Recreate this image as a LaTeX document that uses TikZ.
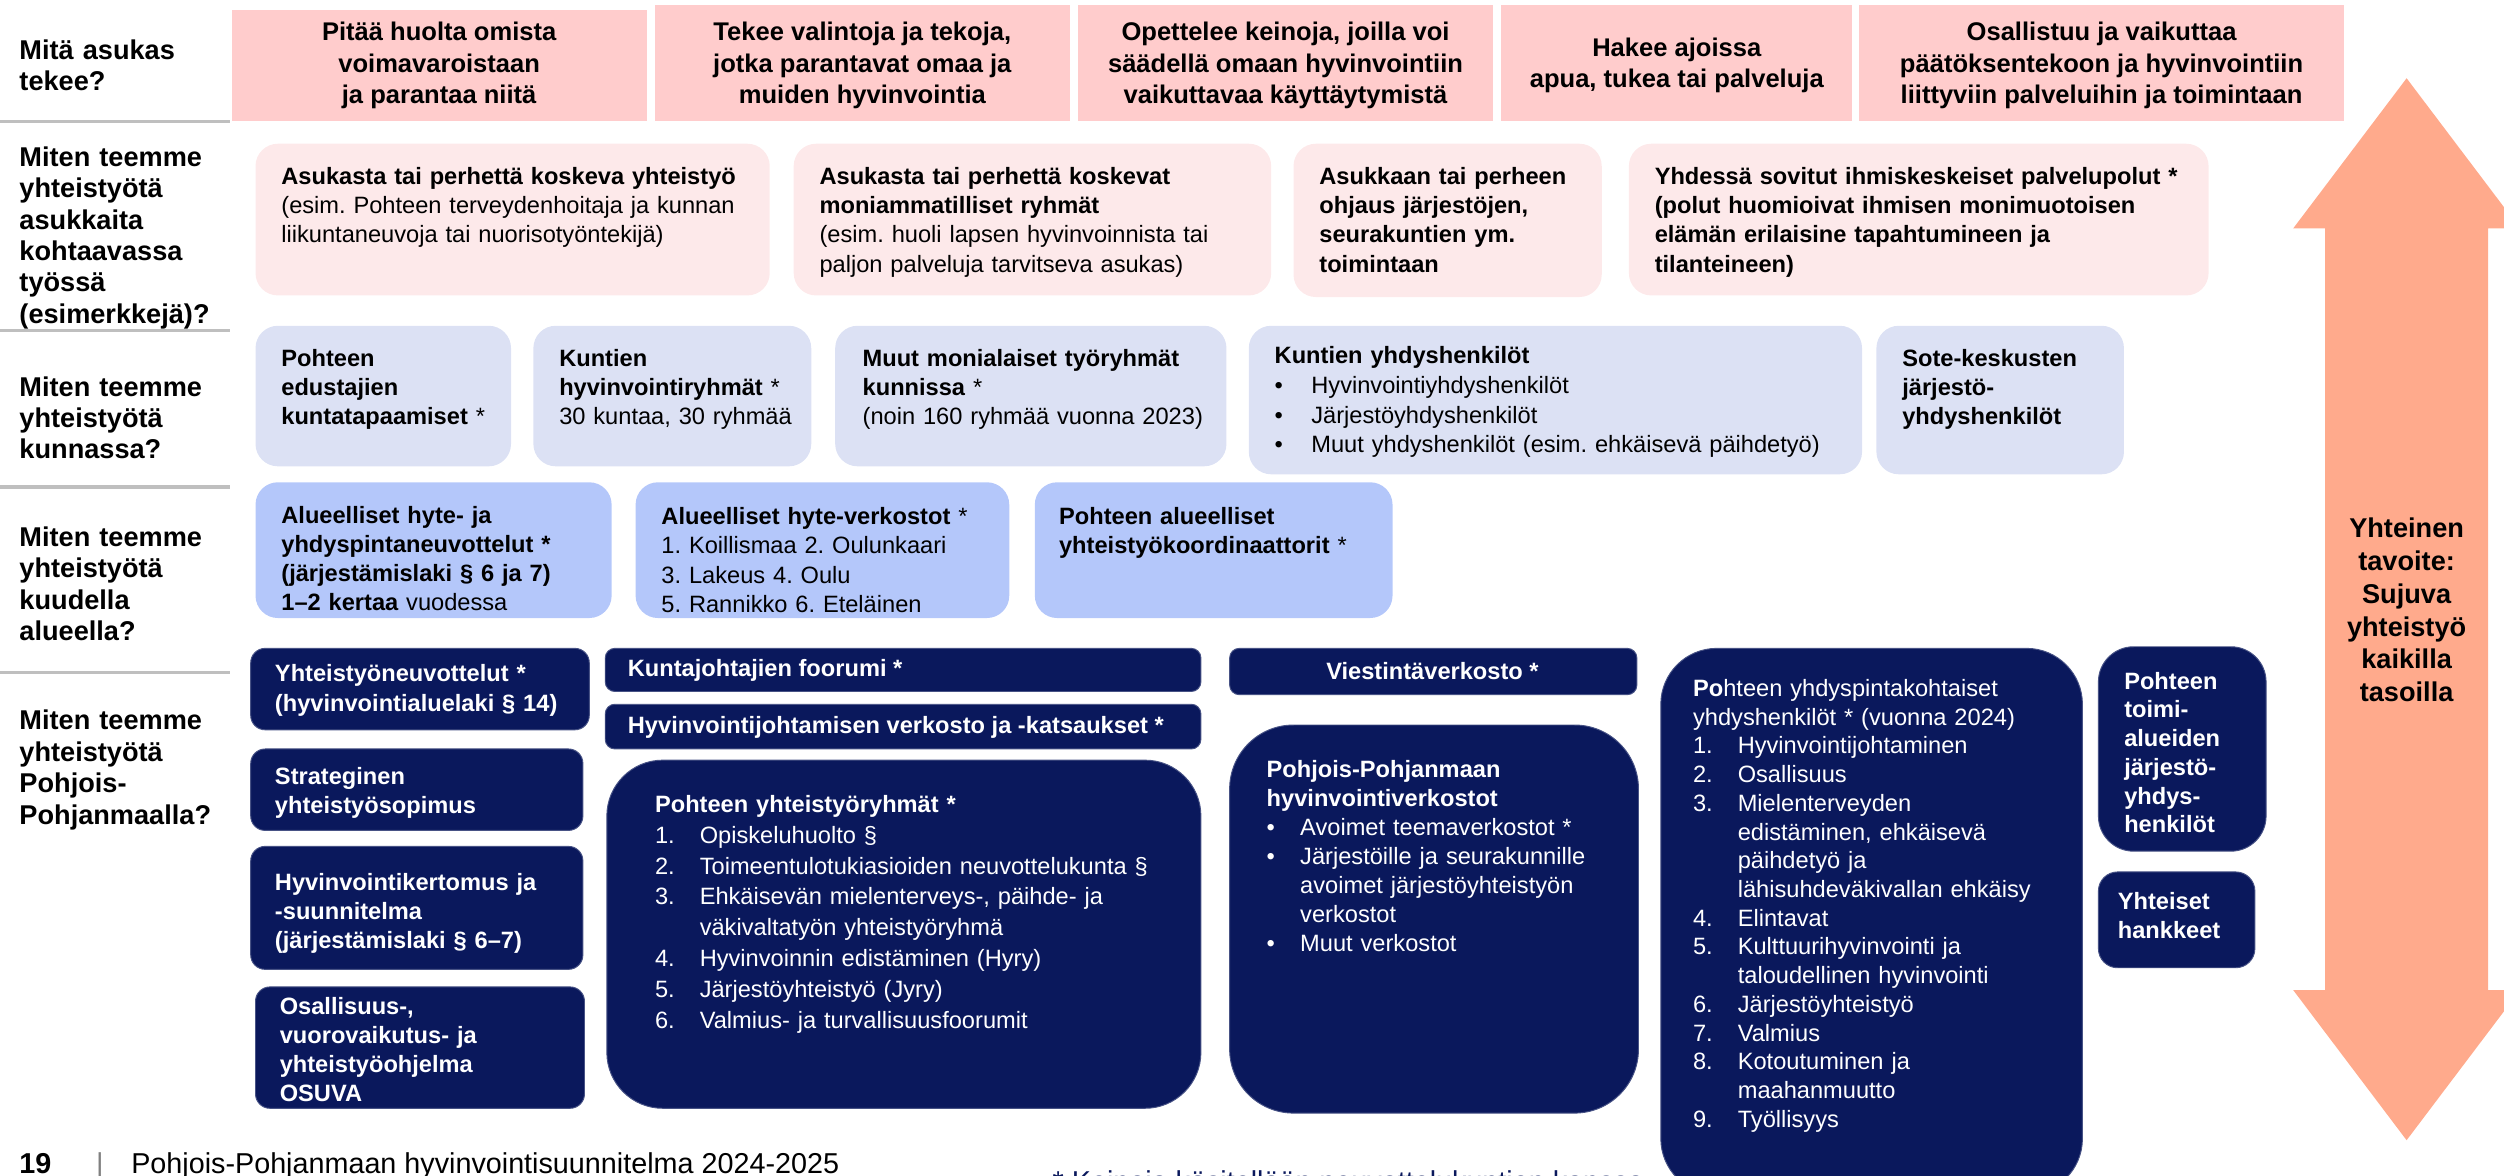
\documentclass[tikz,border=0pt]{standalone}
\usepackage{fontspec}
\setmainfont{Liberation Sans}
\usetikzlibrary{positioning}

\definecolor{headpink}{RGB}{255,204,204}
\definecolor{palepink}{RGB}{253,233,234}
\definecolor{lavender}{RGB}{220,225,244}
\definecolor{periwinkle}{RGB}{180,199,250}
\definecolor{pohnavy}{RGB}{10,24,92}
\definecolor{salmon}{RGB}{255,170,140}
\definecolor{rulegrey}{RGB}{191,191,191}

\newcommand{\itemlbl}[2][28pt]{\makebox[#1][l]{#2}}

\begin{document}
\frenchspacing
\begin{tikzpicture}[x=1pt, y=-1pt,
    qtext/.style={anchor=base west, align=left, text width=140pt, inner sep=0pt,
        font=\fontsize{17}{19.7}\selectfont\bfseries},
    headtext/.style={align=center, inner sep=0pt, font=\fontsize{16}{19.5}\selectfont\bfseries},
    boxtext/.style={anchor=base west, align=left, inner sep=0pt,
        font=\fontsize{14.8}{18.3}\selectfont},
    boldtext/.style={boxtext, font=\fontsize{14.8}{18.3}\selectfont\bfseries},
    navytext/.style={boxtext, text=white},
    navybold/.style={boldtext, text=white},
    navybox/.style={fill=pohnavy, draw=pohnavy!75!white, line width=0.6pt},
    sep/.style={rulegrey, line width=2pt}
]
    \useasboundingbox (0,0) rectangle (1568,736);

    % Questions on the left
    \node[qtext] (q1) at (12,37) {Mitä asukas\\tekee?};
    \node[qtext] (q2) at (12,104) {Miten teemme\\yhteistyötä\\asukkaita\\kohtaavassa\\työssä\\(esimerkkejä)?};
    \node[qtext] (q3) at (12,248) {Miten teemme\\yhteistyötä\\kunnassa?};
    \node[qtext] (q4) at (12,342) {Miten teemme\\yhteistyötä\\kuudella\\alueella?};
    \node[qtext] (q5) at (12,457) {Miten teemme\\yhteistyötä\\Pohjois-\\Pohjanmaalla?};
    \draw[sep] (0,76) -- (144,76);
    \draw[sep] (0,207) -- (144,207);
    \draw[sep] (0,305) -- (144,305);
    \draw[sep] (0,421) -- (144,421);

    % What the resident does
    \fill[headpink] (145,6) rectangle (405,76);
    \fill[headpink] (410,3) rectangle (670,76);
    \fill[headpink] (675,3) rectangle (935,76);
    \fill[headpink] (940,3) rectangle (1160,76);
    \fill[headpink] (1164,3) rectangle (1468,76);
    \node[headtext] (h1) at (275,41) {Pitää huolta omista\\voimavaroistaan\\ja parantaa niitä};
    \node[headtext] (h2) at (540,41) {Tekee valintoja ja tekoja,\\jotka parantavat omaa ja\\muiden hyvinvointia};
    \node[headtext] (h3) at (805,41) {Opettelee keinoja, joilla voi\\säädellä omaan hyvinvointiin\\vaikuttavaa käyttäytymistä};
    \node[headtext] (h4) at (1050,41) {Hakee ajoissa\\apua, tukea tai palveluja};
    \node[headtext] (h5) at (1316,41) {Osallistuu ja vaikuttaa\\päätöksentekoon ja hyvinvointiin\\liittyviin palveluihin ja toimintaan};

    % Work with residents
    \fill[palepink, rounded corners=14pt] (160,90) rectangle (482,185);
    \fill[palepink, rounded corners=14pt] (497,90) rectangle (796,185);
    \fill[palepink, rounded corners=14pt] (810,90) rectangle (1003,186);
    \fill[palepink, rounded corners=14pt] (1020,90) rectangle (1383,185);
    \node[boxtext, text width=310pt] (r2a) at (176,115.5) {\textbf{Asukasta tai perhettä koskeva yhteistyö}\\(esim. Pohteen terveydenhoitaja ja kunnan\\liikuntaneuvoja tai nuorisotyöntekijä)};
    \node[boxtext, text width=290pt] (r2b) at (513,115.5) {{\bfseries Asukasta tai perhettä koskevat\\moniammatilliset ryhmät}\\(esim. huoli lapsen hyvinvoinnista tai\\paljon palveluja tarvitseva asukas)};
    \node[boldtext, text width=180pt] (r2c) at (826,115.5) {Asukkaan tai perheen\\ohjaus järjestöjen,\\seurakuntien ym.\\toimintaan};
    \node[boldtext, text width=350pt] (r2d) at (1036,115.5) {Yhdessä sovitut ihmiskeskeiset palvelupolut *\\(polut huomioivat ihmisen monimuotoisen\\elämän erilaisine tapahtumineen ja\\tilanteineen)};

    % Municipality
    \fill[lavender, rounded corners=14pt] (160,204) rectangle (320,292);
    \fill[lavender, rounded corners=14pt] (334,204) rectangle (508,292);
    \fill[lavender, rounded corners=14pt] (523,204) rectangle (768,292);
    \fill[lavender, rounded corners=14pt] (782,204) rectangle (1166,297);
    \fill[lavender, rounded corners=14pt] (1175,204) rectangle (1330,297);
    \node[boxtext, text width=150pt] (r3a) at (176,229.5) {{\bfseries Pohteen\\edustajien\\kuntatapaamiset} *};
    \node[boxtext, text width=165pt] (r3b) at (350,229.5) {{\bfseries Kuntien\\hyvinvointiryhmät} *\\30 kuntaa, 30 ryhmää};
    \node[boxtext, text width=235pt] (r3c) at (540,229.5) {{\bfseries Muut monialaiset työryhmät\\kunnissa} *\\(noin 160 ryhmää vuonna 2023)};
    \node[boxtext, text width=370pt, font=\fontsize{14.8}{18.7}\selectfont] (r3d) at (798,227.5) {\textbf{Kuntien yhdyshenkilöt}\\
        \itemlbl[23pt]{\textbullet}Hyvinvointiyhdyshenkilöt\\
        \itemlbl[23pt]{\textbullet}Järjestöyhdyshenkilöt\\
        \itemlbl[23pt]{\textbullet}Muut yhdyshenkilöt (esim. ehkäisevä päihdetyö)};
    \node[boldtext, text width=145pt] (r3e) at (1191,229.5) {Sote-keskusten\\järjestö-\\yhdyshenkilöt};

    % Six areas
    \fill[periwinkle, rounded corners=14pt] (160,302) rectangle (383,387);
    \fill[periwinkle, rounded corners=14pt] (398,302) rectangle (632,387);
    \fill[periwinkle, rounded corners=14pt] (648,302) rectangle (872,387);
    \node[boxtext, text width=215pt] (r4a) at (176,327.5) {{\bfseries Alueelliset hyte- ja\\yhdyspintaneuvottelut *\\(järjestämislaki § 6 ja 7)\\1–2 kertaa} vuodessa};
    \node[boxtext, text width=225pt] (r4b) at (414,328.5) {\textbf{Alueelliset hyte-verkostot} *\\1. Koillismaa 2. Oulunkaari\\3. Lakeus 4. Oulu\\5. Rannikko 6. Eteläinen};
    \node[boxtext, text width=215pt] (r4c) at (663,328.5) {{\bfseries Pohteen alueelliset\\yhteistyökoordinaattorit} *};

    % Pohjois-Pohjanmaa
    \fill[navybox, rounded corners=9pt] (157,406) rectangle (369,457);
    \fill[navybox, rounded corners=9pt] (157,469) rectangle (365,520);
    \fill[navybox, rounded corners=9pt] (157,530) rectangle (365,607);
    \fill[navybox, rounded corners=9pt] (160,618) rectangle (366,694);
    \node[navybold, text width=200pt] (a1) at (172,427) {Yhteistyöneuvottelut *\\(hyvinvointialuelaki § 14)};
    \node[navybold, text width=200pt] (a2) at (172,491) {Strateginen\\yhteistyösopimus};
    \node[navybold, text width=200pt] (a3) at (172,557.5) {Hyvinvointikertomus ja\\-suunnitelma\\(järjestämislaki § 6–7)};
    \node[navybold, text width=200pt, font=\fontsize{14.8}{18}\selectfont\bfseries] (a4) at (175,635.5) {Osallisuus-,\\vuorovaikutus- ja\\yhteistyöohjelma\\OSUVA};

    \fill[navybox, rounded corners=6pt] (379,406) rectangle (752,433);
    \fill[navybox, rounded corners=6pt] (379,441) rectangle (752,469);
    \fill[navybox, rounded corners=35pt] (380,476) rectangle (752,694);
    \node[navybold, anchor=west] (b1) at (393,419.5) {Kuntajohtajien foorumi *};
    \node[navybold, anchor=west] (b2) at (393,455.5) {Hyvinvointijohtamisen verkosto ja -katsaukset *};
    \node[navytext, text width=340pt, font=\fontsize{14.8}{19.4}\selectfont] (b3) at (410,508.5) {\textbf{Pohteen yhteistyöryhmät *}\\
        \itemlbl{1.}Opiskeluhuolto §\\
        \itemlbl{2.}Toimeentulotukiasioiden neuvottelukunta §\\
        \itemlbl{3.}Ehkäisevän mielenterveys-, päihde- ja\\
        \itemlbl{}väkivaltatyön yhteistyöryhmä\\
        \itemlbl{4.}Hyvinvoinnin edistäminen (Hyry)\\
        \itemlbl{5.}Järjestöyhteistyö (Jyry)\\
        \itemlbl{6.}Valmius- ja turvallisuusfoorumit};

    \fill[navybox, rounded corners=6pt] (770,406) rectangle (1025,435);
    \fill[navybox, rounded corners=40pt] (770,454) rectangle (1026,697);
    \node[navybold, anchor=center] (c1) at (897,420) {Viestintäverkosto *};
    \node[navytext, text width=230pt, font=\fontsize{14.8}{18.1}\selectfont] (c2) at (793,487) {{\bfseries Pohjois-Pohjanmaan\\hyvinvointiverkostot}\\
        \itemlbl[21pt]{\textbullet}Avoimet teemaverkostot *\\
        \itemlbl[21pt]{\textbullet}Järjestöille ja seurakunnille\\
        \itemlbl[21pt]{}avoimet järjestöyhteistyön\\
        \itemlbl[21pt]{}verkostot\\
        \itemlbl[21pt]{\textbullet}Muut verkostot};

    \fill[navybox, rounded corners=35pt] (1040,406) rectangle (1304,748);
    \node[navytext, text width=250pt, font=\fontsize{14.8}{18}\selectfont] (d) at (1060,436) {\textbf{Po}hteen yhdyspintakohtaiset\\
        yhdyshenkilöt * (vuonna 2024)\\
        \itemlbl{1.}Hyvinvointijohtaminen\\
        \itemlbl{2.}Osallisuus\\
        \itemlbl{3.}Mielenterveyden\\
        \itemlbl{}edistäminen, ehkäisevä\\
        \itemlbl{}päihdetyö ja\\
        \itemlbl{}lähisuhdeväkivallan ehkäisy\\
        \itemlbl{4.}Elintavat\\
        \itemlbl{5.}Kulttuurihyvinvointi ja\\
        \itemlbl{}taloudellinen hyvinvointi\\
        \itemlbl{6.}Järjestöyhteistyö\\
        \itemlbl{7.}Valmius\\
        \itemlbl{8.}Kotoutuminen ja\\
        \itemlbl{}maahanmuutto\\
        \itemlbl{9.}Työllisyys};

    \fill[navybox, rounded corners=22pt] (1314,405) rectangle (1419,533);
    \fill[navybox, rounded corners=12pt] (1314,546) rectangle (1412,606);
    \node[navybold, text width=85pt, font=\fontsize{14.8}{18}\selectfont\bfseries] (e1) at (1330,431.5) {Pohteen\\toimi-\\alueiden\\järjestö-\\yhdys-\\henkilöt};
    \node[navybold, text width=85pt] (e2) at (1326,569.5) {Yhteiset\\hankkeet};

    % Common goal arrow
    \fill[salmon] (1507,49) -- (1578,143) -- (1558,143) -- (1558,620) -- (1578,620)
        -- (1507,714) -- (1436,620) -- (1456,620) -- (1456,143) -- (1436,143) -- cycle;
    \node[align=center, inner sep=0pt, font=\fontsize{17}{20.5}\selectfont\bfseries] (goal) at (1507,382)
        {Yhteinen\\tavoite:\\Sujuva\\yhteistyö\\kaikilla\\tasoilla};

    % Footer
    \node[anchor=base west, inner sep=0pt, font=\fontsize{18}{20}\selectfont\bfseries] (pagenum) at (12,735) {19};
    \node[anchor=base west, inner sep=0pt, text=gray, font=\fontsize{18}{20}\selectfont] (bar) at (60,735) {|};
    \node[anchor=base west, inner sep=0pt, font=\fontsize{18}{20}\selectfont] (doctitle) at (82,735) {Pohjois-Pohjanmaan hyvinvointisuunnitelma 2024-2025};
    \node[anchor=base west, inner sep=0pt, text=pohnavy, font=\fontsize{18}{20}\selectfont] (footnote) at (659,746) {* Keinoja käsitellään neuvottelukuntien kanssa};
\end{tikzpicture}
\end{document}
